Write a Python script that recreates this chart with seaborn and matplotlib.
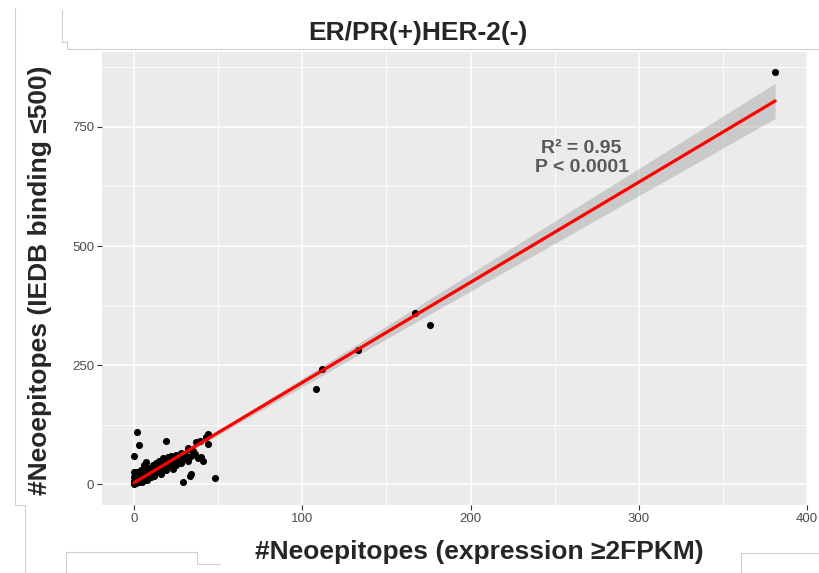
import numpy as np
import pandas as pd
import matplotlib
matplotlib.use('Agg')
import matplotlib.pyplot as plt
from matplotlib.lines import Line2D
import seaborn as sns

# neoepitope counts per tumour
expr_2fpkm = [0, 0, 0, 0, 0, 0, 1, 1, 1, 1, 2, 2, 2, 3, 3, 3, 4, 4, 4, 5, 5, 5,
              6, 6, 6, 7, 7, 7, 8, 8, 8, 9, 9, 10, 10, 10, 11, 11, 12, 12, 13, 13,
              14, 14, 15, 15, 16, 16, 17, 17, 18, 18, 19, 19, 20, 20, 21, 22, 22,
              23, 23, 24, 25, 25, 26, 27, 28, 28, 30, 30, 32, 32, 34, 35, 36, 37,
              38, 39, 40, 41, 44, 44, 29, 33, 34, 48, 2, 3, 0, 19, 43, 32,
              108, 112, 133, 167, 176, 381]
iedb_500 = [0, 2, 5, 8, 15, 25, 3, 8, 12, 20, 4, 15, 25, 6, 10, 18, 8, 22, 30, 5, 12, 18,
            10, 25, 40, 14, 20, 48, 9, 18, 30, 22, 35, 15, 28, 20, 30, 40, 25, 18, 32, 45,
            28, 38, 30, 50, 42, 22, 35, 55, 40, 48, 30, 52, 45, 58, 38, 50, 60,
            33, 46, 55, 40, 62, 50, 58, 45, 65, 55, 62, 75, 50, 60, 70, 63, 89,
            55, 90, 57, 50, 106, 85, 6, 18, 22, 14, 109, 83, 59, 91, 100, 77,
            201, 242, 281, 360, 335, 865]

df = pd.DataFrame({'expr': expr_2fpkm, 'iedb': iedb_500})

sns.set_theme(style='darkgrid')
plt.rcParams['font.family'] = ['Liberation Sans', 'DejaVu Sans']
plt.rcParams['axes.facecolor'] = '#EBEBEB'

fig = plt.figure(figsize=(8.19, 5.73), dpi=100)
ax = fig.add_axes([0.1245, 0.1187, 0.862, 0.7906])

# 95% confidence band of the linear fit (analytic, like geom_smooth)
x = df['expr'].to_numpy(float)
y = df['iedb'].to_numpy(float)
slope, icpt = np.polyfit(x, y, 1)
resid = y - (slope * x + icpt)
n = len(x)
sigma = np.sqrt((resid ** 2).sum() / (n - 2))
xg = np.linspace(x.min(), x.max(), 100)
se = sigma * np.sqrt(1 / n + (xg - x.mean()) ** 2 / ((x - x.mean()) ** 2).sum())
yg = slope * xg + icpt
ax.fill_between(xg, yg - 1.98 * se, yg + 1.98 * se, color='#999999', alpha=0.4,
                lw=0, zorder=2)

sns.regplot(data=df, x='expr', y='iedb', ax=ax, ci=None,
            scatter_kws={'s': 26, 'color': 'black', 'linewidths': 0, 'alpha': 1, 'zorder': 3},
            line_kws={'color': 'red', 'lw': 2.3, 'zorder': 4})

ax.set_xlim(-19.05, 400.5)
ax.set_ylim(-43.2, 907)
ax.set_xticks([0, 100, 200, 300, 400])
ax.set_yticks([0, 250, 500, 750])
ax.set_xticks([50, 150, 250, 350], minor=True)
ax.set_yticks([125, 375, 625, 875], minor=True)
ax.grid(which='major', color='white', lw=1.1)
ax.grid(which='minor', color='white', lw=0.55)
ax.set_axisbelow(True)
for s in ax.spines.values():
    s.set_visible(False)
ax.tick_params(which='major', length=3.5, width=0.8, color='#333333',
               labelsize=9.5, labelcolor='#4D4D4D', pad=2, bottom=True, left=True)
ax.tick_params(which='minor', length=0)
ax.set_xlabel('')
ax.set_ylabel('')

ax.text(266, 684, 'R² = 0.95\nP < 0.0001', ha='center', va='center',
        fontsize=14, fontweight='bold', color='#595959', linespacing=1.15)

fig.text(418 / 819, 1 - 33 / 573, 'ER/PR(+)HER-2(-)', ha='center', va='center',
         fontsize=19, fontweight='bold')
fig.text(479 / 819, 1 - 552 / 573, '#Neoepitopes (expression ≥2FPKM)',
         ha='center', va='center', fontsize=19, fontweight='bold')
fig.text(40 / 819, 1 - 280 / 573, '#Neoepitopes (IEDB binding ≤500)',
         ha='center', va='center', rotation=90, fontsize=19, fontweight='bold')

# leftover panel borders from the original composite figure
W, H = 819, 573
def seg(xs, ys):
    fig.add_artist(Line2D([v / W for v in xs], [1 - v / H for v in ys],
                          color='#CFCFCF', lw=0.8))
seg([15, 15, 25, 25], [8, 505, 505, 573])
seg([62, 62, 67, 67, 819], [10, 42, 42, 49, 49])
seg([66, 66, 197, 197, 220], [573, 552, 552, 564, 564])
seg([741, 741, 819], [573, 553, 553])

fig.savefig('out.png', dpi=100)
